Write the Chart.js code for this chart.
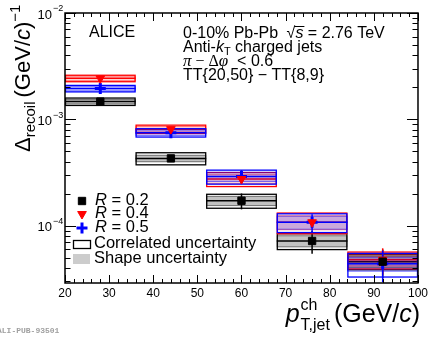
<!DOCTYPE html>
<html><head><meta charset="utf-8">
<script src="https://cdn.jsdelivr.net/npm/chart.js@4/dist/chart.umd.min.js"></script>
<style>html,body{margin:0;padding:0;background:#fff;}#wrap{width:431px;height:337px;}</style>
</head><body><div id="wrap"><canvas id="c" width="431" height="337"></canvas></div>
<script>
// ---- data ----
const binLow    = [20, 36, 52, 68, 84];
const binHigh   = [36, 52, 68, 84, 100];
const binCenter = [28, 44, 60, 76, 92];
const r02 = [1.47e-3, 4.3e-4, 1.72e-4, 7.2e-5, 4.6e-5];
const r04 = [2.43e-3, 8.1e-4, 2.75e-4, 1.08e-4, 4.8e-5];
const r05 = [1.95e-3, 7.5e-4, 2.9e-4, 1.08e-4, 4.4e-5];
// relative uncertainties
const r02Stat  = [0.02, 0.05, 0.17, 0.24, 0.30];
const r04Stat  = [0.03, 0.04, 0.06, 0.12, 0.28];
const r05Stat  = [0.10, 0.10, 0.15, 0.19, 0.33];
const r02Corr  = [0.08, 0.13, 0.15, 0.17, 0.16];
const r04Corr  = [0.07, 0.09, 0.15, 0.22, 0.18];
const r05Corr  = [0.07, 0.09, 0.15, 0.20, 0.25];
const r02Shape = [0.05, 0.07, 0.10, 0.12, 0.12];
const r04Shape = [0.05, 0.06, 0.10, 0.15, 0.13];
const r05Shape = [0.05, 0.06, 0.10, 0.14, 0.15];
const xTickValues = [20, 30, 40, 50, 60, 70, 80, 90, 100];
const yDecades = [-2, -3, -4];
const seriesNames = ["R = 0.2", "R = 0.4", "R = 0.5"];

const SANS = '"Liberation Sans", Arial, sans-serif';
const SERIF = '"Liberation Serif", "Times New Roman", serif';

const series = [
  {vals: r02, stat: r02Stat, corr: r02Corr, shape: r02Shape, col: '#000000', fill: 'rgba(0,0,0,0.24)', style: 'rect', radius: 5.2, rot: 0, bw: 1},
  {vals: r04, stat: r04Stat, corr: r04Corr, shape: r04Shape, col: '#ff0000', fill: 'rgba(255,0,0,0.18)', style: 'triangle', radius: 5, rot: 180, bw: 1},
  {vals: r05, stat: r05Stat, corr: r05Corr, shape: r05Shape, col: '#0000ff', fill: 'rgba(0,0,255,0.2)', style: 'cross', radius: 5.5, rot: 0, bw: 3}
];

function drawRich(ctx, x, y, parts) {
  let cx = x;
  for (const p of parts) {
    ctx.font = p.font;
    ctx.fillText(p.t, cx, y + (p.dy || 0));
    cx += ctx.measureText(p.t).width + (p.gap || 0);
  }
  return cx;
}
function richWidth(ctx, parts) {
  let w = 0;
  for (const p of parts) { ctx.font = p.font; w += ctx.measureText(p.t).width + (p.gap || 0); }
  return w;
}

const boxPlugin = {
  id: 'boxes',
  beforeDatasetsDraw(chart) {
    const {ctx, scales: {x, y}, chartArea: ca} = chart;
    ctx.save();
    ctx.beginPath(); ctx.rect(ca.left, ca.top, ca.right - ca.left, ca.bottom - ca.top); ctx.clip();
    for (const s of series) {
      for (let i = 0; i < binCenter.length; i++) {
        const v = s.vals[i];
        const x0 = x.getPixelForValue(binLow[i]), x1 = x.getPixelForValue(binHigh[i]);
        // shape uncertainty: filled
        const sy0 = y.getPixelForValue(v * (1 + s.shape[i])), sy1 = y.getPixelForValue(v * (1 - s.shape[i]));
        ctx.fillStyle = s.fill;
        ctx.fillRect(x0, sy0, x1 - x0, sy1 - sy0);
        ctx.strokeStyle = s.col; ctx.lineWidth = 1; ctx.globalAlpha = 0.5;
        ctx.strokeRect(x0 + 0.5, sy0, x1 - x0 - 1, sy1 - sy0);
        ctx.globalAlpha = 1;
        // correlated uncertainty: open box
        const cy0 = y.getPixelForValue(v * (1 + s.corr[i])), cy1 = y.getPixelForValue(v * (1 - s.corr[i]));
        ctx.lineWidth = 1.3;
        ctx.strokeRect(x0 + 0.5, cy0, x1 - x0 - 1, cy1 - cy0);
        // horizontal bin-width line
        const yv = y.getPixelForValue(v);
        ctx.lineWidth = 1.5;
        ctx.beginPath(); ctx.moveTo(x0, yv); ctx.lineTo(x1, yv); ctx.stroke();
        // statistical error bar
        const xc = x.getPixelForValue(binCenter[i]);
        const ey0 = y.getPixelForValue(v * (1 + s.stat[i])), ey1 = y.getPixelForValue(v * (1 - s.stat[i]));
        ctx.lineWidth = 1.5;
        ctx.beginPath(); ctx.moveTo(xc, ey0); ctx.lineTo(xc, ey1); ctx.stroke();
      }
    }
    ctx.restore();
  },
  afterDraw(chart) {
    const {ctx, scales: {x, y}, chartArea: ca} = chart;
    ctx.save();
    // frame
    ctx.strokeStyle = '#000'; ctx.lineWidth = 1.5;
    ctx.strokeRect(ca.left, ca.top, ca.right - ca.left, ca.bottom - ca.top);
    ctx.lineWidth = 1;
    ctx.beginPath();
    for (let v = x.min; v <= x.max + 1e-9; v += 2) {
      const px = Math.round(x.getPixelForValue(v)) + 0.5;
      const len = (v % 10 === 0) ? 8 : 4;
      ctx.moveTo(px, ca.bottom); ctx.lineTo(px, ca.bottom - len);
      ctx.moveTo(px, ca.top); ctx.lineTo(px, ca.top + len);
    }
    for (let e = -5; e <= -2; e++) {
      for (let m = 1; m <= 9; m++) {
        const v = m * Math.pow(10, e);
        if (v < y.min * 0.999 || v > y.max * 1.001) continue;
        const py = Math.round(y.getPixelForValue(v)) + 0.5;
        const len = m === 1 ? 11 : 5.5;
        ctx.moveTo(ca.left, py); ctx.lineTo(ca.left + len, py);
        ctx.moveTo(ca.right, py); ctx.lineTo(ca.right - len, py);
      }
    }
    ctx.stroke();
    // y tick labels 10^n
    ctx.fillStyle = '#000';
    ctx.textBaseline = 'middle';
    for (const e of yDecades) {
      const py = y.getPixelForValue(Math.pow(10, e));
      ctx.font = '13px ' + SANS;
      ctx.textAlign = 'right';
      ctx.fillText('10', 52, py + 2);
      ctx.textAlign = 'left';
      ctx.font = '9px ' + SANS;
      ctx.fillText('\u2212' + (-e), 53, py - 4);
    }
    ctx.textAlign = 'left';
    ctx.textBaseline = 'alphabetic';
    // ALICE
    ctx.font = '16px ' + SANS;
    ctx.fillText('ALICE', 89, 37);
    // annotation block
    const F = '16px ' + SANS, FI = 'italic 16px ' + SANS, FS = '11px ' + SANS;
    let ex = drawRich(ctx, 183, 38, [{t: '0-10% Pb-Pb ', font: F, gap: 4}]);
    ctx.font = F; ctx.fillText('\u221A', ex, 38);
    const sqw = ctx.measureText('\u221A').width;
    ctx.font = FI; ctx.fillText('s', ex + sqw, 38);
    const sw = ctx.measureText('s').width;
    ctx.beginPath(); ctx.lineWidth = 1; ctx.moveTo(ex + sqw - 1, 26.5); ctx.lineTo(ex + sqw + sw + 1, 26.5); ctx.stroke();
    drawRich(ctx, ex + sqw + sw, 38, [{t: ' = 2.76 TeV', font: F}]);
    drawRich(ctx, 183, 52, [{t: 'Anti-', font: F}, {t: 'k', font: FI}, {t: 'T', font: FS, dy: 3}, {t: ' charged jets', font: F}]);
    drawRich(ctx, 183, 66, [{t: '\u03C0', font: 'italic 17px ' + SERIF}, {t: ' \u2212 \u0394', font: '16px ' + SERIF}, {t: '\u03C6', font: 'italic 17px ' + SERIF}, {t: '  < 0.6', font: F}]);
    drawRich(ctx, 183, 80, [{t: 'TT{20,50} \u2212 TT{8,9}', font: F}]);
    // legend
    const LF = '16.5px ' + SANS, LFI = 'italic 16.5px ' + SANS;
    const ly = [201, 214, 228];
    series.forEach((s, k) => {
      ctx.fillStyle = s.col; ctx.strokeStyle = s.col; ctx.lineWidth = s.bw;
      Chart.helpers.drawPoint(ctx, {pointStyle: s.style, radius: s.radius, rotation: s.rot, borderWidth: s.bw}, 82, ly[k]);
      ctx.fillStyle = '#000';
      const nm = seriesNames[k];
      drawRich(ctx, 95, ly[k] + 4, [{t: nm.charAt(0), font: LFI}, {t: nm.slice(1), font: LF}]);
    });
    ctx.strokeStyle = '#000'; ctx.lineWidth = 1.3;
    ctx.strokeRect(73.5, 240.5, 17, 8);
    ctx.fillStyle = '#cccccc';
    ctx.fillRect(73, 254, 17, 10);
    ctx.fillStyle = '#000';
    ctx.font = LF;
    ctx.fillText('Correlated uncertainty', 94, 248);
    ctx.fillText('Shape uncertainty', 94, 263);
    // x axis title
    const XF = '25px ' + SANS, XFI = 'italic 25px ' + SANS, XS = '16px ' + SANS;
    ctx.font = XFI; const pw = ctx.measureText('p').width;
    ctx.font = XS; const chw = ctx.measureText('ch').width, tjw = ctx.measureText('T,jet').width;
    const subw = Math.max(chw, tjw) + 5;
    const restParts = [{t: '(GeV/', font: XF}, {t: 'c', font: XFI}, {t: ')', font: XF}];
    const rw = richWidth(ctx, restParts);
    const xb = 322;
    let sx = 420 - rw - subw - pw;
    ctx.font = XFI; ctx.fillText('p', sx, xb);
    ctx.font = XS; ctx.fillText('ch', sx + pw + 1, xb - 12); ctx.fillText('T,jet', sx + pw + 1, xb + 8);
    drawRich(ctx, sx + pw + subw, xb, restParts);
    // y axis title (rotated)
    ctx.save();
    ctx.translate(30, 152);
    ctx.rotate(-Math.PI / 2);
    const YF = '22px ' + SANS, YFI = 'italic 22px ' + SANS, YS = '15px ' + SANS;
    drawRich(ctx, 0, 0, [{t: '\u0394', font: YF}, {t: 'recoil', font: YS, dy: 5, gap: 4}, {t: '(GeV/', font: YF}, {t: 'c', font: YFI}, {t: ')', font: YF}, {t: '\u22121', font: YS, dy: -10}]);
    ctx.restore();
    // publication id
    ctx.fillStyle = '#a0a0a0';
    ctx.font = 'bold 8px "Liberation Mono", "DejaVu Sans Mono", monospace';
    ctx.fillText('ALI-PUB-93501', -3, 333);
    ctx.restore();
  }
};

new Chart(document.getElementById('c'), {
  type: 'scatter',
  data: {
    datasets: series.map((s, k) => ({
      label: seriesNames[k],
      data: binCenter.map((c, i) => ({x: c, y: s.vals[i]})),
      pointStyle: s.style,
      pointRadius: s.radius,
      pointRotation: s.rot,
      pointBackgroundColor: s.col,
      pointBorderColor: s.col,
      pointBorderWidth: s.bw,
      showLine: false
    }))
  },
  options: {
    responsive: false,
    animation: false,
    devicePixelRatio: 1,
    layout: {padding: {top: 13, right: 11, left: 0, bottom: 0}},
    plugins: {legend: {display: false}, tooltip: {enabled: false}},
    scales: {
      x: {
        type: 'linear', min: 20, max: 100,
        grid: {display: false, drawTicks: false},
        border: {display: false},
        ticks: {stepSize: 10, padding: 3, color: '#000', font: {family: SANS, size: 12},
                callback: (v) => xTickValues.includes(v) ? String(v) : ''},
        afterFit: (s) => { s.height = 54; }
      },
      y: {
        type: 'logarithmic', min: 2.9e-5, max: 1e-2,
        grid: {display: false, drawTicks: false},
        border: {display: false},
        ticks: {display: false},
        afterFit: (s) => { s.width = 65; }
      }
    }
  },
  plugins: [boxPlugin]
});
</script>
</body></html>
